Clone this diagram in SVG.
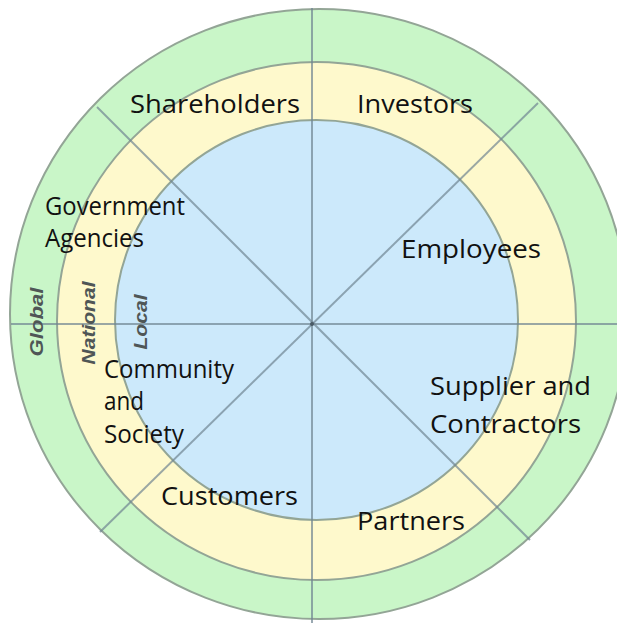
<svg xmlns="http://www.w3.org/2000/svg" width="617" height="623" viewBox="0 0 617 623">
  <style>
    .lbl { font-family: "Open Sans", "Noto Sans", "Liberation Sans", sans-serif; font-size: 25px; fill: #111; }
    .lvl { font-family: "Liberation Sans", Arial, sans-serif; font-size: 19px; font-weight: bold; font-style: italic; fill: #4f5656; text-anchor: middle; }
    .ring { stroke: #93a596; stroke-width: 2; }
    .spoke { stroke: #6f8591; stroke-opacity: 0.7; stroke-width: 2; fill: none; }
  </style>
  <rect width="617" height="623" fill="#ffffff"/>
  <g id="ring-global">
    <ellipse class="ring" cx="319" cy="314" rx="309" ry="305" fill="#c9f6c8"/>
  </g>
  <g id="ring-national">
    <ellipse class="ring" cx="316.5" cy="321" rx="259.5" ry="259" fill="#fef9cc"/>
  </g>
  <g id="ring-local">
    <ellipse class="ring" cx="316.5" cy="320" rx="201.5" ry="200" fill="#cce9fb"/>
  </g>
  <g id="connectors">
    <line class="spoke" x1="312" y1="8" x2="312" y2="623"/>
    <line class="spoke" x1="11" y1="324" x2="617" y2="324"/>
    <line class="spoke" x1="97" y1="107" x2="530" y2="540"/>
    <line class="spoke" x1="538" y1="103" x2="100" y2="532"/>
    <circle cx="312" cy="324" r="2" fill="#4a5a66"/>
  </g>
  <g id="level-global"><text class="lvl" transform="translate(43,322) rotate(-90)" x="0" y="0" textLength="69" lengthAdjust="spacingAndGlyphs">Global</text></g>
  <g id="level-national"><text class="lvl" transform="translate(95,323) rotate(-90)" x="0" y="0" textLength="83" lengthAdjust="spacingAndGlyphs">National</text></g>
  <g id="level-local"><text class="lvl" transform="translate(147,322) rotate(-90)" x="0" y="0" textLength="55" lengthAdjust="spacingAndGlyphs">Local</text></g>
  <g id="shareholders"><text class="lbl" x="130" y="113" textLength="170" lengthAdjust="spacingAndGlyphs">Shareholders</text></g>
  <g id="investors"><text class="lbl" x="357" y="113" textLength="116" lengthAdjust="spacingAndGlyphs">Investors</text></g>
  <g id="government-agencies">
    <text class="lbl" x="45" y="215" textLength="140" lengthAdjust="spacingAndGlyphs">Government</text>
    <text class="lbl" x="45" y="247" textLength="99" lengthAdjust="spacingAndGlyphs">Agencies</text>
  </g>
  <g id="employees"><text class="lbl" x="401" y="258" textLength="140" lengthAdjust="spacingAndGlyphs">Employees</text></g>
  <g id="community-society">
    <text class="lbl" x="104" y="378" textLength="130" lengthAdjust="spacingAndGlyphs">Community</text>
    <text class="lbl" x="104" y="410" textLength="40" lengthAdjust="spacingAndGlyphs">and</text>
    <text class="lbl" x="104" y="443" textLength="80" lengthAdjust="spacingAndGlyphs">Society</text>
  </g>
  <g id="supplier-contractors">
    <text class="lbl" x="430" y="395" textLength="161" lengthAdjust="spacingAndGlyphs">Supplier and</text>
    <text class="lbl" x="430" y="433" textLength="151" lengthAdjust="spacingAndGlyphs">Contractors</text>
  </g>
  <g id="customers"><text class="lbl" x="161" y="505" textLength="137" lengthAdjust="spacingAndGlyphs">Customers</text></g>
  <g id="partners"><text class="lbl" x="357" y="530" textLength="108" lengthAdjust="spacingAndGlyphs">Partners</text></g>
</svg>
